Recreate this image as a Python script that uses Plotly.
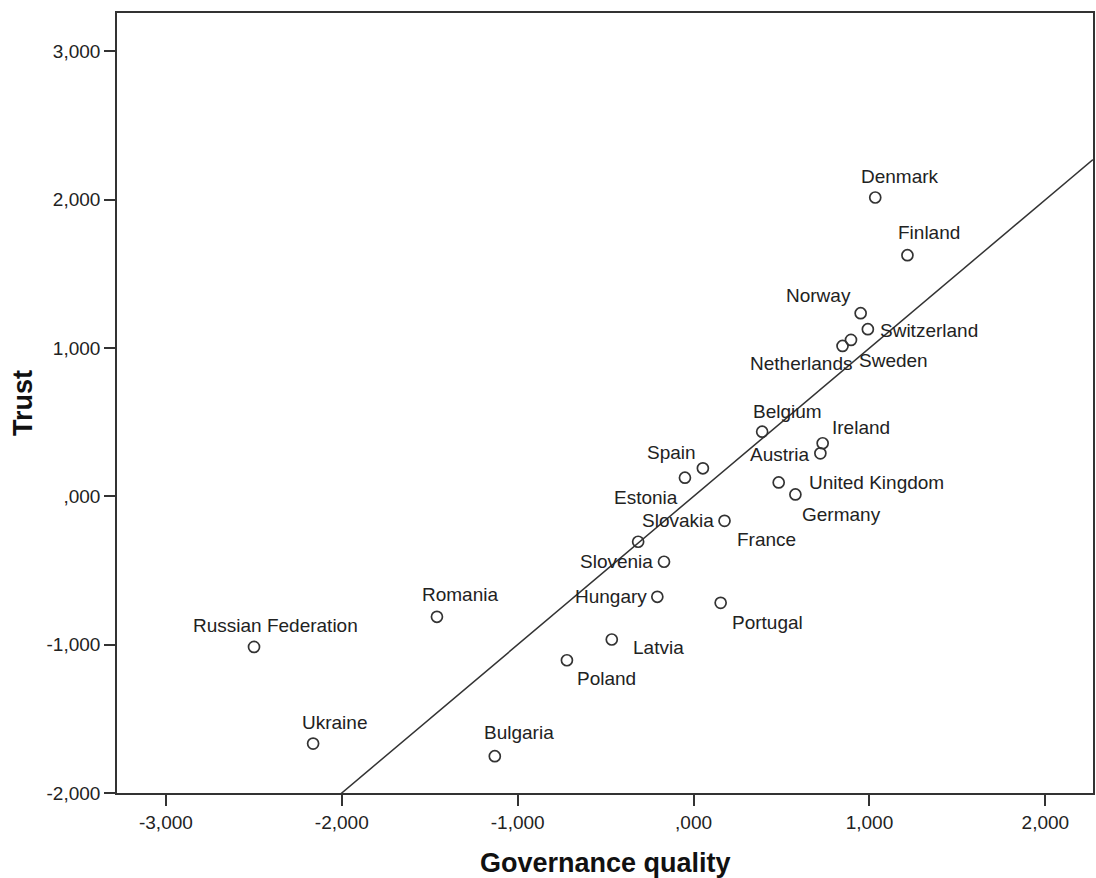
import plotly.graph_objects as go

# ---- data ----
countries = ["Denmark", "Finland", "Norway", "Switzerland", "Sweden", "Netherlands",
             "Belgium", "Ireland", "Austria", "Spain", "Estonia", "United Kingdom",
             "Germany", "France", "Slovakia", "Slovenia", "Hungary", "Portugal",
             "Latvia", "Poland", "Romania", "Russian Federation", "Ukraine", "Bulgaria"]
governance = [1.033, 1.216, 0.950, 0.991, 0.895, 0.847,
              0.390, 0.734, 0.721, 0.053, -0.049, 0.484,
              0.579, 0.176, -0.315, -0.168, -0.206, 0.154,
              -0.465, -0.720, -1.459, -2.499, -2.163, -1.130]
trust = [2.015, 1.626, 1.235, 1.127, 1.055, 1.014,
         0.436, 0.358, 0.290, 0.189, 0.126, 0.094,
         0.013, -0.165, -0.306, -0.441, -0.677, -0.718,
         -0.965, -1.105, -0.812, -1.015, -1.667, -1.752]

fit_slope = 1.0
fit_intercept = 0.0

x_tickvals = [-3, -2, -1, 0, 1, 2]
x_ticktext = ["-3,000", "-2,000", "-1,000", ",000", "1,000", "2,000"]
y_tickvals = [-2, -1, 0, 1, 2, 3]
y_ticktext = ["-2,000", "-1,000", ",000", "1,000", "2,000", "3,000"]

x_title = "Governance quality"
y_title = "Trust"

# ---- label placement (pixel offsets: right, down) ----
label_offsets = {
    "Denmark": (25, -21), "Finland": (22, -23), "Norway": (-42, -17.5),
    "Switzerland": (61, 1.5), "Sweden": (43, 21), "Netherlands": (-42, 18),
    "Belgium": (25, -20), "Ireland": (38.5, -16), "Austria": (-40, 1),
    "Spain": (-31.5, -16), "Estonia": (-39, 20), "United Kingdom": (97.7, 0),
    "Germany": (46, 20), "France": (41.5, 18.5), "Slovakia": (40, -21),
    "Slovenia": (-48, 0), "Hungary": (-46.7, 0), "Portugal": (46.7, 20),
    "Latvia": (47, 8), "Poland": (39.5, 18), "Romania": (23.5, -22.5),
    "Russian Federation": (21, -21), "Ukraine": (21, -21.6), "Bulgaria": (24, -23.5),
}

INK = "#333333"
FONT = "Liberation Sans, Arial, sans-serif"
x_range = [-3.278, 2.271]
y_range = [-2.0, 3.259]

fig = go.Figure()

# regression line
lx = [x_range[0], x_range[1]]
ly = [fit_slope * v + fit_intercept for v in lx]
fig.add_trace(go.Scatter(x=lx, y=ly, mode="lines",
                         line=dict(color=INK, width=1.5),
                         hoverinfo="skip", showlegend=False))

fig.add_trace(go.Scatter(x=governance, y=trust, mode="markers",
                         marker=dict(symbol="circle-open", size=11,
                                     color=INK, line=dict(width=1.7, color=INK)),
                         text=countries, showlegend=False))

for c, gx, ty in zip(countries, governance, trust):
    dx, dy = label_offsets[c]
    fig.add_annotation(x=gx, y=ty, xref="x", yref="y", text=c, showarrow=False,
                       xanchor="center", yanchor="middle", xshift=dx, yshift=-dy,
                       font=dict(family=FONT, size=19, color="#222222"))

fig.add_annotation(x=0.5, y=0, xref="paper", yref="paper", text=f"<b>{x_title}</b>",
                   showarrow=False, xanchor="center", yanchor="middle", yshift=-70,
                   font=dict(family=FONT, size=27, color="#111111"))
fig.add_annotation(x=0, y=0.5, xref="paper", yref="paper", text=f"<b>{y_title}</b>",
                   showarrow=False, xanchor="center", yanchor="middle", xshift=-94,
                   textangle=-90,
                   font=dict(family=FONT, size=27, color="#111111"))

axis_common = dict(showgrid=False, zeroline=False, showline=True, linecolor=INK,
                   linewidth=1.6, mirror=True, ticks="outside", ticklen=11,
                   tickwidth=1.6, tickcolor=INK,
                   tickfont=dict(family=FONT, size=19, color="#222222"))

fig.update_xaxes(range=x_range, tickvals=x_tickvals, ticktext=x_ticktext, **axis_common)
fig.update_yaxes(range=y_range, tickvals=y_tickvals, ticktext=y_ticktext, **axis_common)

fig.update_layout(width=1096, height=878, margin=dict(l=117, r=1, t=13, b=85),
                  plot_bgcolor="white", paper_bgcolor="white",
                  font=dict(family=FONT))

fig.write_html("out.html",
               config={"displayModeBar": False},
               post_script="document.body.style.margin='0';"
                           "document.body.style.overflow='hidden';")
